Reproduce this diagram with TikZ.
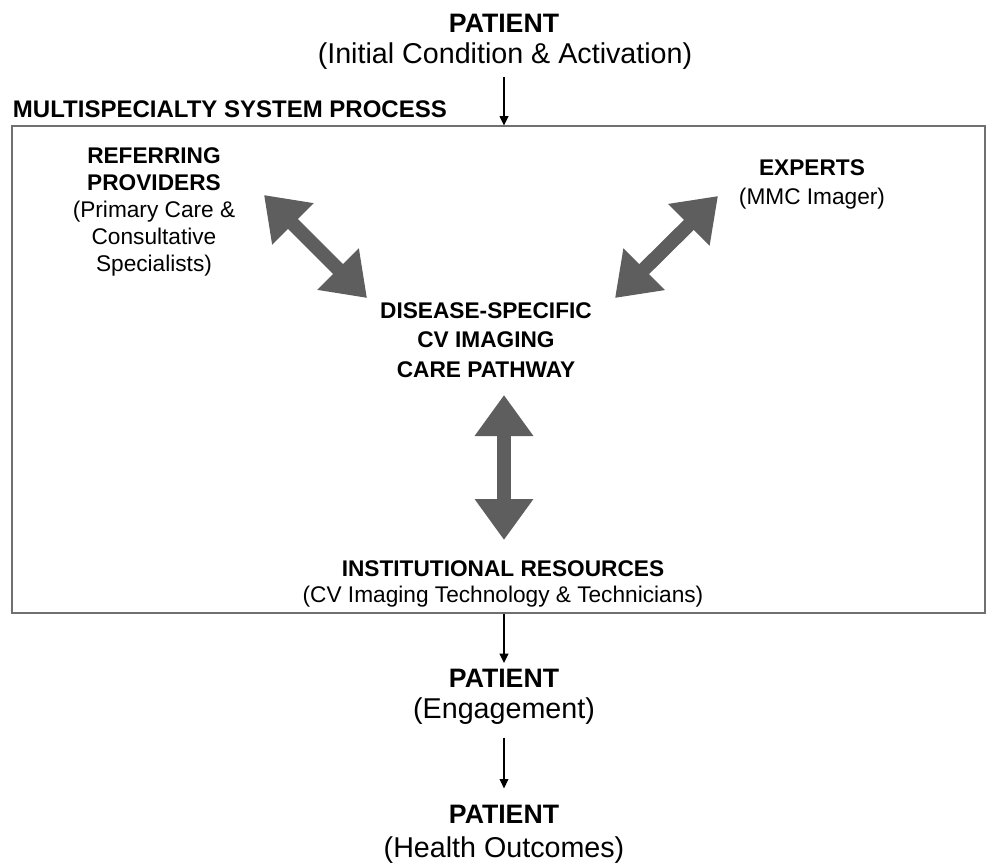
\documentclass[tikz,border=0pt]{standalone}
\usepackage{fontspec}
\setmainfont{Liberation Sans}
\usetikzlibrary{arrows.meta}

\definecolor{arrowgray}{HTML}{5E5E5E}
\definecolor{framegray}{HTML}{707070}

\tikzset{
  head/.style={font=\fontsize{20}{24}\selectfont\bfseries, inner sep=0pt, anchor=base},
  sub/.style={font=\fontsize{21.5}{25}\selectfont, inner sep=0pt, anchor=base},
  lbl/.style={font=\fontsize{17}{20.25}\selectfont, align=center, inner sep=0pt, anchor=base},
  flow/.style={line width=1.1pt, -{Triangle[length=7pt,width=6.5pt]}},
  bigarrow/.style={draw=arrowgray, line width=10.5pt,
    {Triangle[length=30.75pt,width=42pt]}-{Triangle[length=30.75pt,width=42pt]}},
}

\begin{document}
\begin{tikzpicture}[x=0.75pt,y=-0.75pt]
  \useasboundingbox (0,0) rectangle (986,865);

  % patient coming in
  \node[head] (patin) at (504,32) {PATIENT};
  \node[sub] (patinsub) at (505,63) {(Initial Condition \& Activation)};

  % the system box
  \node[anchor=base west, inner sep=0pt, font=\fontsize{18}{20}\selectfont\bfseries] (msp) at (12.7,117)
    {MULTISPECIALTY SYSTEM PROCESS};
  \node[draw=framegray, line width=1.5pt, minimum width=730.1pt, minimum height=364.9pt,
    inner sep=0pt] (sys) at (498.25,369.75) {};

  % base of a multi-line node = its last line
  \node[lbl] (refprov) at (154,271)
    {\textbf{REFERRING}\\\textbf{PROVIDERS}\\(Primary Care \&\\Consultative\\Specialists)};
  \node[lbl, font=\fontsize{17}{21.75}\selectfont] (expert) at (812,204)
    {\textbf{EXPERTS}\\(MMC Imager)};
  \node[lbl, font=\fontsize{17}{22}\selectfont\bfseries] (pathway) at (486,377)
    {DISEASE-SPECIFIC\\CV IMAGING\\CARE PATHWAY};
  \node[lbl, font=\fontsize{17}{19.5}\selectfont] (instres) at (503,602)
    {\textbf{INSTITUTIONAL RESOURCES}\\(CV Imaging Technology \& Technicians)};

  % big double arrows
  \coordinate (refA) at (264,195);
  \coordinate (refB) at (367,298);
  \coordinate (expA) at (718,196);
  \coordinate (expB) at (615,298);
  \coordinate (insA) at (504,395);
  \coordinate (insB) at (504,540);
  \draw[bigarrow] (refA) -- (refB);
  \draw[bigarrow] (expA) -- (expB);
  \draw[bigarrow] (insA) -- (insB);

  % patient going out
  \node[head] (pateng) at (504,687) {PATIENT};
  \node[sub] (patengsub) at (504,718) {(Engagement)};
  \node[head] (patout) at (504,823) {PATIENT};
  \node[sub] (patoutsub) at (504,857) {(Health Outcomes)};

  \draw[flow, shorten <=6pt] (patinsub.south -| patin) -- (sys.north -| patin);
  \draw[flow, shorten >=4pt] (sys.south -| pateng) -- (pateng.north);
  \draw[flow, shorten <=10pt, shorten >=12pt] (patengsub.south -| pateng) -- (patout.north);
\end{tikzpicture}
\end{document}
